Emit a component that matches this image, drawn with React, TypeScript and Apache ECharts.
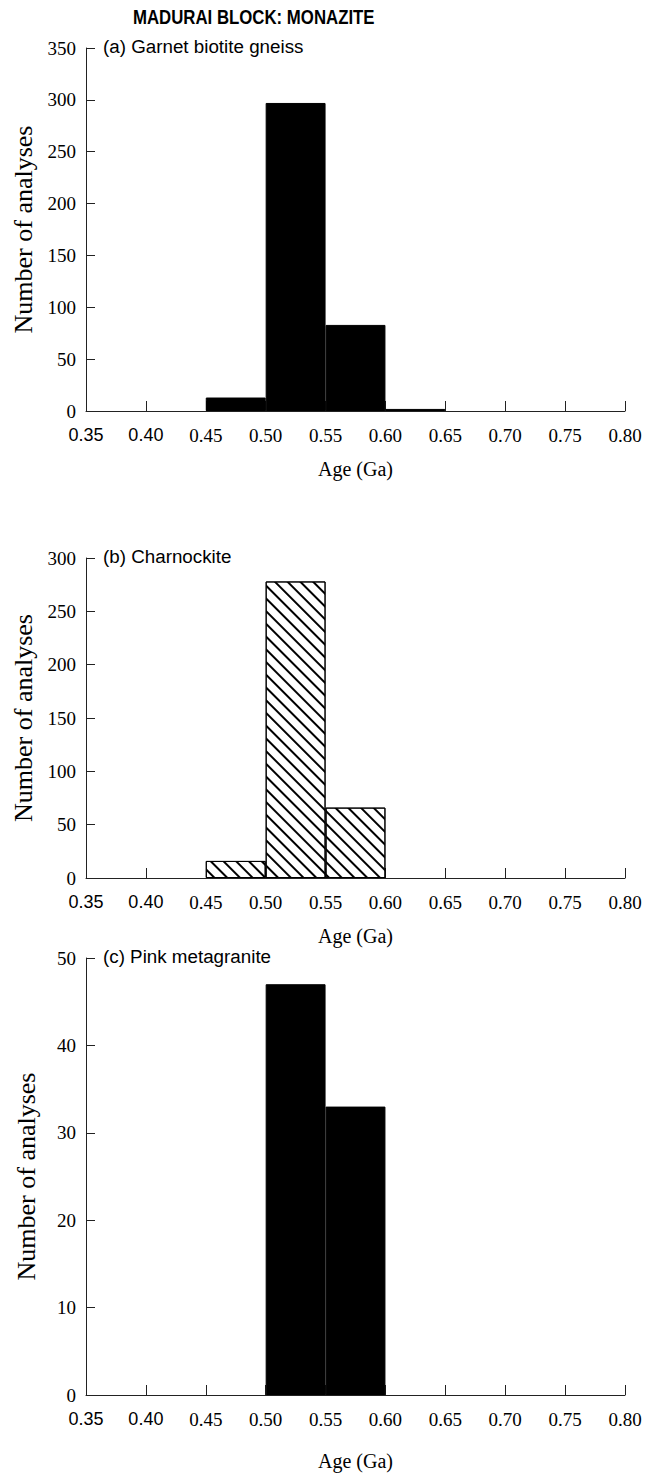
import React, { useEffect, useRef } from "react";
import * as echarts from "echarts";

const binLabels = ["0.35-0.40", "0.40-0.45", "0.45-0.50", "0.50-0.55", "0.55-0.60", "0.60-0.65", "0.65-0.70", "0.70-0.75", "0.75-0.80"];
const countsA = [0, 0, 13, 297, 83, 2, 0, 0, 0];
const countsB = [0, 0, 16, 278, 66, 0, 0, 0, 0];
const countsC = [0, 0, 0, 47, 33, 0, 0, 0, 0];
const yMaxA = 350;
const yMaxB = 300;
const yMaxC = 50;
const yStepA = 50;
const yStepB = 50;
const yStepC = 10;
const xMin = 0.35;
const xMax = 0.8;
const xStep = 0.05;
const mainTitle = "MADURAI BLOCK: MONAZITE";
const panelTitles = ["(a) Garnet biotite gneiss", "(b) Charnockite", "(c) Pink metagranite"];
const xName = "Age (Ga)";
const yName = "Number of analyses";

const SERIF = "'Liberation Serif', 'Times New Roman', serif";
const SANS = "'Liberation Sans', Arial, sans-serif";

export default function App() {
  const ref = useRef<HTMLDivElement>(null);
  useEffect(() => {
    if (!ref.current) return;
    const chart = echarts.init(ref.current, null, { renderer: "svg" });

    const grids = [
      { left: 86, right: 27, top: 48, height: 363 },
      { left: 86, right: 27, top: 558, height: 320 },
      { left: 86, right: 27, top: 958, height: 437 },
    ];
    const xNameGaps = [48, 48, 56];
    const yMaxes = [yMaxA, yMaxB, yMaxC];
    const ySteps = [yStepA, yStepB, yStepC];
    const counts = [countsA, countsB, countsC];

    const xAxes: any[] = [];
    grids.forEach((_, i) => {
      xAxes.push({
        type: "category",
        gridIndex: i,
        position: "top",
        data: binLabels,
        show: false,
        boundaryGap: true,
      });
      xAxes.push({
        type: "value",
        gridIndex: i,
        position: "bottom",
        min: xMin,
        max: xMax,
        interval: xStep,
        name: xName,
        nameLocation: "middle",
        nameGap: xNameGaps[i],
        nameTextStyle: { fontFamily: SERIF, fontSize: 20, color: "#000" },
        axisLine: { show: true, onZero: false, lineStyle: { color: "#222", width: 1 } },
        axisTick: { show: true, inside: true, length: 10, lineStyle: { color: "#222" } },
        splitLine: { show: false },
        axisLabel: {
          margin: 15,
          formatter: (v: number) => {
            const s = v.toFixed(2);
            return v < 0.425 ? "{s|" + s + "}" : "{r|" + s + "}";
          },
          rich: {
            s: { fontFamily: SANS, fontSize: 18, color: "#000" },
            r: { fontFamily: SERIF, fontSize: 19, color: "#000" },
          },
        },
      });
    });

    const yAxes = grids.map((_, i) => ({
      type: "value",
      gridIndex: i,
      position: "left",
      min: 0,
      max: yMaxes[i],
      interval: ySteps[i],
      name: yName,
      nameLocation: "middle",
      nameGap: 47,
      nameTextStyle: { fontFamily: SERIF, fontSize: 26, color: "#000" },
      axisLine: { show: true, onZero: false, lineStyle: { color: "#222", width: 1 } },
      axisTick: { show: true, inside: true, length: 9, lineStyle: { color: "#222" } },
      splitLine: { show: false },
      axisLabel: { fontFamily: SERIF, fontSize: 19, color: "#000", margin: 10 },
    }));

    const hatch = {
      symbol: "rect",
      symbolSize: 1,
      symbolKeepAspect: false,
      color: "#000",
      backgroundColor: "#fff",
      dashArrayX: [1, 0],
      dashArrayY: [1.2, 6.3],
      rotation: Math.PI / 4,
    };

    const series = counts.map((arr, i) => ({
      type: "bar",
      xAxisIndex: i * 2,
      yAxisIndex: i,
      barWidth: "100%",
      barCategoryGap: "0%",
      data: arr.map((v) => (v > 0 ? v : "-")),
      itemStyle:
        i === 1
          ? { color: "#fff", borderColor: "#000", borderWidth: 1, decal: hatch }
          : { color: "#000", borderColor: "#000", borderWidth: 1 },
    }));

    chart.setOption({
      animation: false,
      aria: { enabled: false },
      grid: grids,
      xAxis: xAxes,
      yAxis: yAxes,
      series,
      graphic: [
        {
          type: "text",
          x: 133,
          y: 6,
          scaleX: 0.8,
          style: { text: mainTitle, font: "bold 21px " + SANS, fill: "#000" },
        },
        ...panelTitles.map((t, i) => ({
          type: "text",
          left: 103,
          top: grids[i].top - 11,
          style: { text: t, font: "18.8px " + SANS, fill: "#000" },
        })),
      ],
    });
    return () => chart.dispose();
  }, []);
  return (
    <div
      ref={ref}
      style={{ position: "absolute", left: 0, top: 0, width: 652, height: 1481, background: "#fff" }}
    />
  );
}
